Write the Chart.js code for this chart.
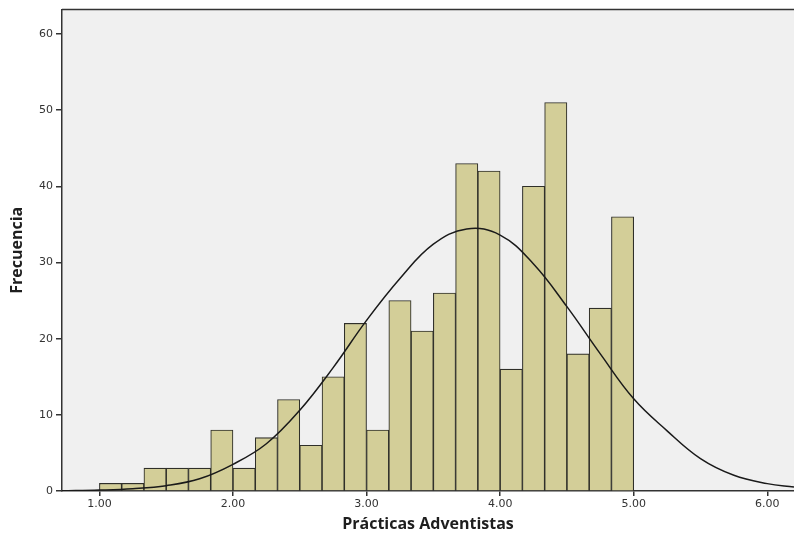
<!DOCTYPE html>
<html>
<head>
<meta charset="utf-8">
<script src="https://cdn.jsdelivr.net/npm/chart.js@4/dist/chart.umd.min.js"></script>
<style>
  html, body { margin: 0; padding: 0; background: #ffffff; }
  #wrap { width: 794px; height: 535px; }
</style>
</head>
<body>
<div id="wrap"><canvas id="c" width="794" height="535"></canvas></div>
<script>
// ---- Data ----
const binLow = [1.000, 1.1667, 1.3333, 1.500, 1.6667, 1.8333, 2.000, 2.1667, 2.3333, 2.500, 2.6667, 2.8333,
                3.000, 3.1667, 3.3333, 3.500, 3.6667, 3.8333, 4.000, 4.1667, 4.3333, 4.500, 4.6667, 4.8333];
const binWidth = 1 / 6;
const frequencies = [1, 1, 3, 3, 3, 8, 3, 7, 12, 6, 15, 22,
                     8, 25, 21, 26, 43, 42, 16, 40, 51, 18, 24, 36];

// Normal curve, points
const curveX = [0.72, 1.00, 1.25, 1.50, 1.75, 2.00, 2.25, 2.50, 2.75, 3.00, 3.25, 3.50, 3.75,
                4.00, 4.25, 4.50, 4.75, 5.00, 5.25, 5.50, 5.75, 6.00, 6.20];
const curveY = [0.02, 0.12, 0.3, 0.7, 1.6, 3.5, 6.2, 10.6, 16.2, 22.4, 27.9, 32.4, 34.4,
                33.6, 29.8, 24.2, 18.0, 12.1, 7.9, 4.25, 2.06, 0.97, 0.52];

const xTickValues = [1, 2, 3, 4, 5, 6];
const xTickLabels = ['1.00', '2.00', '3.00', '4.00', '5.00', '6.00'];
const yTickValues = [0, 10, 20, 30, 40, 50, 60];
const yTickLabels = ['0', '10', '20', '30', '40', '50', '60'];

const xTitle = 'Prácticas Adventistas';
const yTitle = 'Frecuencia';

// ---- Build datasets ----
const barData = binLow.map((lo, i) => ({ x: lo + binWidth / 2, y: frequencies[i] }));
const lineData = curveX.map((x, i) => ({ x: x, y: curveY[i] }));

const plotBg = {
  id: 'plotBg',
  beforeDraw(chart) {
    const { ctx, chartArea: a } = chart;
    ctx.save();
    ctx.fillStyle = '#f0f0f0';
    ctx.fillRect(a.left, a.top, a.right - a.left, a.bottom - a.top);
    ctx.restore();
  },
  afterDraw(chart) {
    const { ctx, chartArea: a } = chart;
    ctx.save();
    ctx.strokeStyle = '#333333';
    ctx.lineWidth = 1.5;
    ctx.beginPath();
    ctx.moveTo(a.left, a.top);
    ctx.lineTo(a.right, a.top);
    ctx.stroke();
    ctx.restore();
  }
};

const tickFont = { family: 'DejaVu Sans', size: 11 };
const titleFont = { family: 'Open Sans', size: 16, weight: 'bold' };

new Chart(document.getElementById('c'), {
  type: 'bar',
  data: {
    datasets: [
      {
        type: 'line',
        data: lineData,
        borderColor: '#1a1a1a',
        borderWidth: 1.5,
        pointRadius: 0,
        fill: false,
        tension: 0.4,
        order: 0
      },
      {
        type: 'bar',
        data: barData,
        backgroundColor: '#d3ce98',
        borderColor: '#2f2f29',
        borderWidth: 1.1,
        borderSkipped: 'start',
        barPercentage: 1.0,
        categoryPercentage: 1.0,
        order: 1
      }
    ]
  },
  options: {
    responsive: false,
    animation: false,
    devicePixelRatio: 1,
    layout: { padding: { top: 9, right: 0, left: 0, bottom: 0 } },
    plugins: { legend: { display: false }, tooltip: { enabled: false } },
    scales: {
      x: {
        type: 'linear',
        offset: false,
        min: 0.72,
        max: 6.2,
        afterBuildTicks(scale) { scale.ticks = xTickValues.map(v => ({ value: v })); },
        afterFit(scale) { scale.height = 44; },
        ticks: {
          autoSkip: false,
          maxRotation: 0,
          padding: 2,
          color: '#333333',
          font: tickFont,
          callback(value) { const i = xTickValues.indexOf(value); return i >= 0 ? xTickLabels[i] : ''; }
        },
        grid: { offset: false, drawOnChartArea: false, drawTicks: true, tickLength: 5, color: '#333333', lineWidth: 1.5 },
        border: { display: true, color: '#333333', width: 1.5 },
        title: { display: true, text: xTitle, color: '#1e1e1e', font: titleFont, padding: { top: 0, bottom: 1 } }
      },
      y: {
        type: 'linear',
        min: 0,
        max: 63.2,
        afterBuildTicks(scale) { scale.ticks = yTickValues.map(v => ({ value: v })); },
        afterFit(scale) { scale.width = 62; },
        ticks: {
          autoSkip: false,
          padding: 3,
          color: '#333333',
          font: tickFont,
          callback(value) { const i = yTickValues.indexOf(value); return i >= 0 ? yTickLabels[i] : ''; }
        },
        grid: { drawOnChartArea: false, drawTicks: true, tickLength: 6, color: '#333333', lineWidth: 1.5 },
        border: { display: true, color: '#333333', width: 1.5 },
        title: { display: true, text: yTitle, color: '#1e1e1e', font: titleFont, padding: { top: 8, bottom: 0 } }
      }
    }
  },
  plugins: [plotBg]
});
</script>
</body>
</html>
